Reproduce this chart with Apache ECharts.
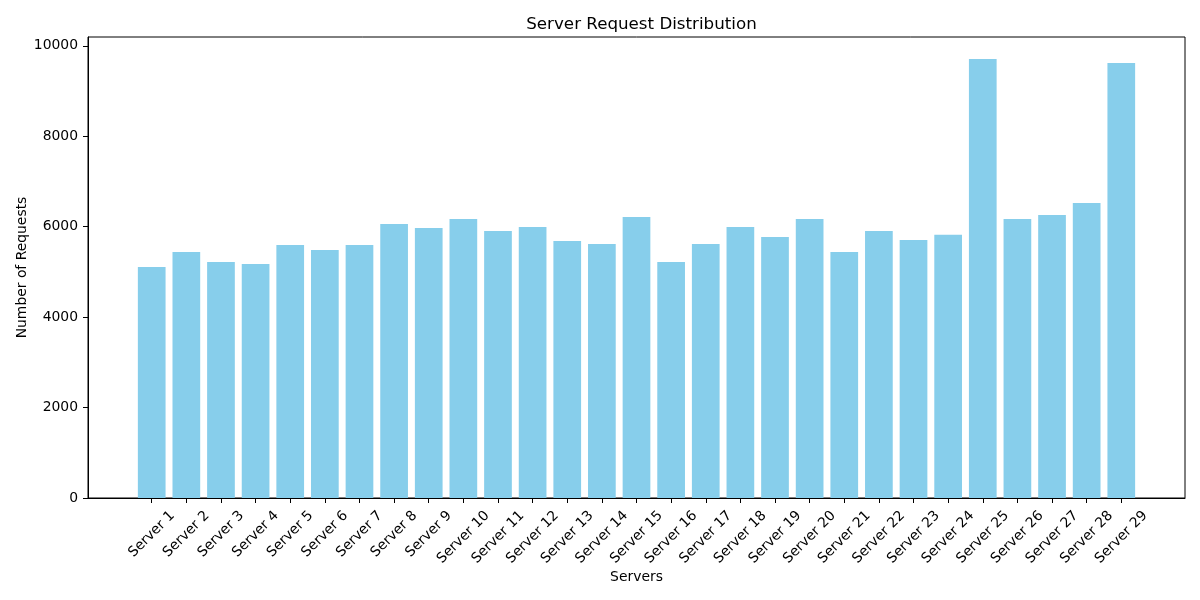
<!DOCTYPE html>
<html>
<head>
<meta charset="utf-8">
<script src="https://cdn.jsdelivr.net/npm/echarts@6/dist/echarts.min.js"></script>
<style>html,body{margin:0;padding:0;background:#fff}#c{width:1200px;height:600px}</style>
</head>
<body>
<div id="c"></div>
<script>
const categories = ["Server 1","Server 2","Server 3","Server 4","Server 5","Server 6","Server 7","Server 8","Server 9","Server 10","Server 11","Server 12","Server 13","Server 14","Server 15","Server 16","Server 17","Server 18","Server 19","Server 20","Server 21","Server 22","Server 23","Server 24","Server 25","Server 26","Server 27","Server 28","Server 29"];
const requests = [5110,5440,5220,5175,5595,5485,5595,6060,5970,6170,5905,5995,5685,5620,6215,5220,5620,5995,5775,6170,5440,5905,5705,5820,9710,6170,6260,6525,9620];
const yTicks = [0,2000,4000,6000,8000,10000];

const n = categories.length;
const pad = 0.4 + 0.05 * (n - 1 + 0.8);
const xMin = -pad, xMax = n - 1 + pad;
const yMax = Math.max(...requests) * 1.05;
const gridLeft = 88, gridRight = 15;
const unitPx = (1200 - gridLeft - gridRight) / (xMax - xMin);
const font = "DejaVu Sans";
const fs = 13.9;

const ctx = document.createElement('canvas').getContext('2d');
ctx.font = fs + 'px "' + font + '"';
const textH = fs * 1.17;
const S = Math.SQRT1_2;

const chart = echarts.init(document.getElementById('c'), null, {renderer: 'canvas'});
chart.setOption({
  animation: false,
  backgroundColor: '#fff',
  title: {
    text: 'Server Request Distribution',
    left: (gridLeft + 1200 - gridRight) / 2, textAlign: 'center', top: 11,
    textStyle: {fontFamily: font, fontSize: 16.7, fontWeight: 'normal', color: '#000'}
  },
  grid: {left: gridLeft, right: gridRight, top: 37, bottom: 102, show: true, borderColor: '#000', borderWidth: 1, backgroundColor: 'transparent'},
  xAxis: {
    type: 'value', min: xMin, max: xMax,
    name: 'Servers', nameLocation: 'middle', nameGap: 72, nameMoveOverlap: false,
    nameTextStyle: {fontFamily: font, fontSize: fs, color: '#000'},
    axisLine: {show: true, onZero: false, lineStyle: {color: '#000', width: 1}},
    axisTick: {show: true, length: 5, lineStyle: {color: '#000'}, customValues: categories.map((c, i) => i)},
    axisLabel: {show: false},
    splitLine: {show: false}
  },
  yAxis: {
    type: 'value', min: 0, max: yMax,
    name: 'Number of Requests', nameLocation: 'middle', nameGap: 59, nameMoveOverlap: false,
    nameTextStyle: {fontFamily: font, fontSize: fs, color: '#000'},
    axisLine: {show: true, onZero: false, lineStyle: {color: '#000', width: 1}},
    axisTick: {show: true, length: 5, lineStyle: {color: '#000'}, customValues: yTicks},
    axisLabel: {customValues: yTicks, formatter: v => String(v), fontFamily: font, fontSize: fs, color: '#000', margin: 10},
    splitLine: {show: false}
  },
  series: [{
    type: 'bar',
    data: requests.map((v, i) => [i, v]),
    barWidth: unitPx * 0.8,
    itemStyle: {color: '#87CEEB'}
  }, {
    type: 'custom',
    clip: false,
    silent: true,
    data: categories.map((c, i) => [i, 0]),
    renderItem: function (params, api) {
      const i = api.value(0);
      const p = api.coord([i, 0]);
      const label = categories[i];
      const w = ctx.measureText(label).width;
      const top = p[1] + 9.7;
      return {
        type: 'text',
        x: p[0] + S * w / 2,
        y: top + S * textH / 2,
        rotation: Math.PI / 4,
        style: {
          text: label, fontFamily: font, fontSize: fs, fill: '#000',
          align: 'right', verticalAlign: 'middle'
        }
      };
    }
  }]
});
</script>
</body>
</html>
